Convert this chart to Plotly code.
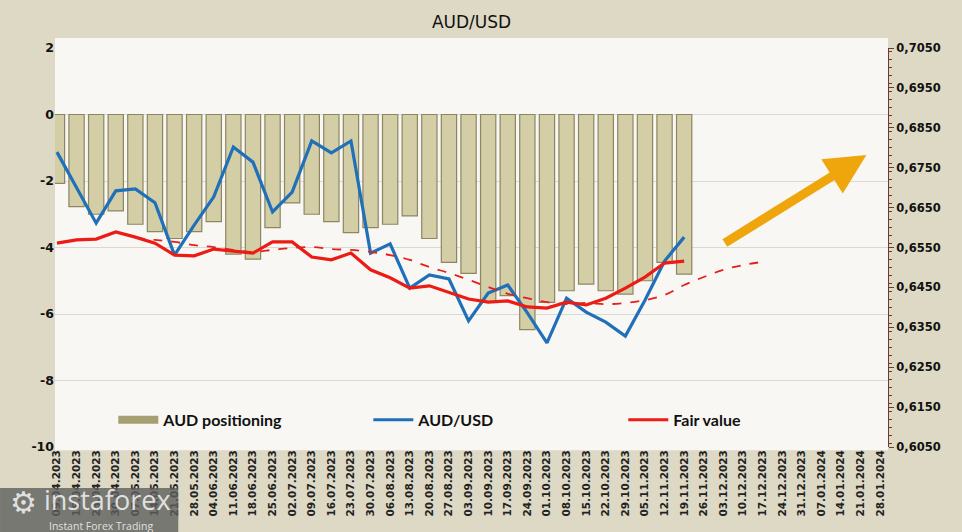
import plotly.graph_objects as go

dates = ["09.04.2023","16.04.2023","23.04.2023","30.04.2023","07.05.2023","14.05.2023","21.05.2023",
         "28.05.2023","04.06.2023","11.06.2023","18.06.2023","25.06.2023","02.07.2023","09.07.2023",
         "16.07.2023","23.07.2023","30.07.2023","06.08.2023","13.08.2023","20.08.2023","27.08.2023",
         "03.09.2023","10.09.2023","17.09.2023","24.09.2023","01.10.2023","08.10.2023","15.10.2023",
         "22.10.2023","29.10.2023","05.11.2023","12.11.2023","19.11.2023","26.11.2023","03.12.2023",
         "10.12.2023","17.12.2023","24.12.2023","31.12.2023","07.01.2024","14.01.2024","21.01.2024",
         "28.01.2024"]

positioning = [-2.07, -2.77, -3.0, -2.9, -3.3, -3.52, -3.73, -3.52, -3.22, -4.2, -4.35, -3.4,
               -2.66, -3.0, -3.22, -3.55, -3.4, -3.3, -3.05, -3.73, -4.45, -4.78, -5.65, -5.45,
               -6.47, -5.65, -5.3, -5.1, -5.3, -5.4, -5.0, -4.45, -4.8]

audusd = [0.6789, 0.6702, 0.6611, 0.6692, 0.6697, 0.6662, 0.6531, 0.6606, 0.6677, 0.6802, 0.6764,
          0.6639, 0.6689, 0.6817, 0.6787, 0.6817, 0.6536, 0.6559, 0.6448, 0.6481, 0.6471, 0.6366,
          0.6436, 0.6456, 0.6386, 0.6311, 0.6423, 0.6388, 0.6363, 0.6328, 0.6418, 0.6516, 0.6576]

fair_value = [0.6561, 0.6569, 0.6571, 0.6589, 0.6576, 0.6561, 0.6531, 0.6529, 0.6546, 0.6541, 0.6536,
              0.6564, 0.6564, 0.6526, 0.6519, 0.6536, 0.6494, 0.6474, 0.6448, 0.6454, 0.6438, 0.6421,
              0.6413, 0.6416, 0.6401, 0.6398, 0.6413, 0.6406, 0.6423, 0.6448, 0.6476, 0.6511, 0.6516]

fair_trend_start = 4
fair_trend = [0.6574, 0.6569, 0.6564, 0.6556, 0.6551, 0.6544, 0.6539, 0.6544, 0.6549, 0.6551, 0.6546,
              0.6544, 0.6539, 0.6531, 0.6519, 0.6501, 0.6486, 0.6469, 0.6451, 0.6434, 0.6423, 0.6413,
              0.6408, 0.6411, 0.6408, 0.6411, 0.6418, 0.6431, 0.6456, 0.6476, 0.6494, 0.6506, 0.6514]

left_ticks = [2, 0, -2, -4, -6, -8, -10]
left_labels = ["2", "0", "-2", "-4", "-6", "-8", "-10"]
right_ticks = [0.7050, 0.6950, 0.6850, 0.6750, 0.6650, 0.6550, 0.6450, 0.6350, 0.6250, 0.6150, 0.6050]

idx_all = list(range(len(dates)))
idx_pos = idx_all[:len(positioning)]
idx_trend = idx_all[fair_trend_start:fair_trend_start + len(fair_trend)]

fig = go.Figure()
fig.add_trace(go.Bar(x=idx_pos, y=positioning, name="AUD positioning", showlegend=False,
                     marker=dict(color="#D3CEA6", line=dict(color="#8C8762", width=1.2)),
                     width=0.78))
# legend entry for the bars (flat khaki bar symbol, as in the reference)
fig.add_trace(go.Scatter(x=[None], y=[None], name="AUD positioning", mode="lines",
                         line=dict(color="#A69F72", width=8), legendrank=1))
fig.add_trace(go.Scatter(x=idx_pos, y=audusd, name="AUD/USD", yaxis="y2", mode="lines",
                         line=dict(color="#1F70B8", width=3.2), legendrank=2))
fig.add_trace(go.Scatter(x=idx_pos, y=fair_value, name="Fair value", yaxis="y2", mode="lines",
                         line=dict(color="#EC1B14", width=3.2), legendrank=3))
fig.add_trace(go.Scatter(x=idx_trend, y=fair_trend, name="Fair value trend", yaxis="y2", mode="lines",
                         showlegend=False, line=dict(color="#E5201A", width=1.8, dash="dash", shape="spline")))

# white plot panel
fig.add_shape(type="rect", xref="paper", yref="paper", x0=0, x1=1, y0=-0.008, y1=1.025,
              fillcolor="#F8F7F3", line=dict(width=0), layer="below")

fig.add_annotation(x=41.3, y=0.6782, xref="x", yref="y2", ax=34.0, ay=0.6559, axref="x", ayref="y2",
                   showarrow=True, arrowhead=2, arrowsize=0.9, arrowwidth=9, arrowcolor="#EFA60C", text="")

# watermark
fig.add_shape(type="rect", xref="paper", yref="paper", x0=-0.066, x1=0.148, y0=-0.2133, y1=-0.103,
              fillcolor="rgba(95,95,95,0.8)", line=dict(width=0))
fig.add_annotation(xref="paper", yref="paper", x=-0.016, y=-0.131, text="instaforex", showarrow=False,
                   xanchor="left", yanchor="middle",
                   font=dict(family="Open Sans", size=27, color="rgba(235,235,235,0.92)"))
fig.add_annotation(xref="paper", yref="paper", x=-0.01, y=-0.197, text="Instant Forex Trading", showarrow=False,
                   xanchor="left", yanchor="middle",
                   font=dict(family="Open Sans", size=10.5, color="rgba(235,235,235,0.92)"))
fig.add_annotation(xref="paper", yref="paper", x=-0.056, y=-0.14, text="⚙", showarrow=False,
                   xanchor="left", yanchor="middle",
                   font=dict(family="DejaVu Sans", size=30, color="rgba(235,235,235,0.92)"))

fig.update_layout(
    width=962, height=532,
    margin=dict(l=55, r=74, t=48, b=85, autoexpand=False),
    paper_bgcolor="#DDD9C4",
    plot_bgcolor="rgba(0,0,0,0)",
    separators=", ",
    title=dict(text="AUD/USD", x=0.5, xanchor="center", xref="paper", y=0.958, yref="container",
               yanchor="middle", font=dict(family="DejaVu Sans", size=17, color="#111")),
    bargap=0.2,
    showlegend=True,
    legend=dict(orientation="h", x=0.07, y=0.068, xanchor="left", yanchor="middle",
                bgcolor="rgba(0,0,0,0)", entrywidth=200, entrywidthmode="pixels",
                font=dict(family="Lato", size=16, color="#111", weight="bold"), itemwidth=40),
    xaxis=dict(range=[-0.1, 42.4], tickmode="array", tickvals=idx_all, ticktext=dates, tickangle=-90,
               automargin=False,
               tickfont=dict(family="DejaVu Sans", size=10.5, color="#222", weight="bold"),
               showgrid=False, zeroline=False, showline=False, ticks=""),
    yaxis=dict(range=[-10, 2], tickvals=left_ticks, ticktext=left_labels, showgrid=True,
               gridcolor="#D8D8D4", gridwidth=1, automargin=False,
               zeroline=False, showline=False, ticks="",
               tickfont=dict(family="DejaVu Sans", size=12.5, color="#111", weight="bold")),
    yaxis2=dict(range=[0.6050, 0.7050], overlaying="y", side="right", tickvals=right_ticks,
                tickformat=".4f", showgrid=False, zeroline=False, showline=True, linecolor="#6E3B34",
                linewidth=1, ticks="outside", ticklen=5, tickcolor="#6E3B34", automargin=False,
                minor=dict(dtick=0.002, ticks="outside", ticklen=3, tickcolor="#6E3B34"),
                tickfont=dict(family="DejaVu Sans", size=11.5, color="#111", weight="bold")),
)

fig.write_html("out.html", config={"displayModeBar": False},
               post_script="document.body.style.margin='0';")
